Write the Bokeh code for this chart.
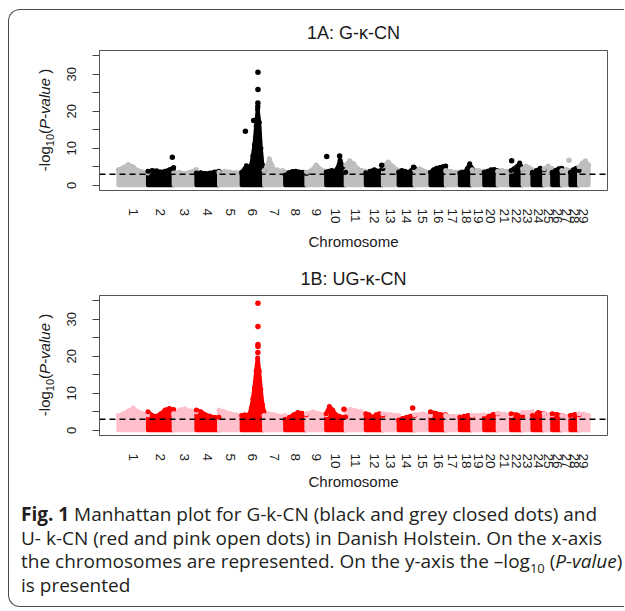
import numpy as np
from bokeh.plotting import figure
from bokeh.models import FixedTicker, Span, Div
from bokeh.layouts import column, row
from bokeh.embed import file_html
from bokeh.resources import INLINE

# ---------------- data ----------------
chromosomes = [str(c) for c in range(1, 30)]
chrom_length_mb = [158.3, 137.1, 121.4, 120.7, 121.2, 119.5, 112.6, 113.4, 105.7, 104.3,
                   107.3, 91.2, 84.2, 84.6, 85.3, 81.7, 75.2, 66.0, 64.1, 72.0,
                   71.6, 61.4, 52.5, 62.7, 42.9, 51.7, 45.4, 46.3, 51.5]
y_ticks = [0, 5, 10, 15, 20, 25, 30, 35]
y_tick_labels = ["0", "", "10", "", "20", "", "30", ""]
threshold = 3.0

# upper envelope of the dense SNP cloud (-log10 P) per chromosome, panel 1A
env_a = [
    [4.2, 4.8, 5.6, 5.0, 4.0, 3.6, 3.3],
    [3.8, 4.0, 3.9, 3.6, 3.8, 4.2, 4.8],
    [3.3, 3.5, 3.2, 3.6, 4.3],
    [3.3, 3.4, 3.2, 3.3, 3.6, 3.8],
    [3.5, 3.8, 3.6, 3.4, 3.5],
    [3.5, 3.8, 4.5, 5.3, 4.5, 5.0, 5.5, 8.0, 11.0, 16.0, 20.5, 17.0, 10.0, 5.5, 4.0],
    [4.0, 5.0, 7.2, 5.5, 4.0, 4.2, 3.8, 4.0, 3.6],
    [2.8, 3.4, 3.7, 3.8, 3.6, 3.5, 3.2],
    [3.5, 4.0, 5.5, 4.2, 3.8],
    [3.6, 3.8, 4.0, 3.8, 4.5, 6.8, 5.0, 3.5],
    [5.5, 6.6, 5.8, 4.5, 4.0, 3.8],
    [3.4, 3.8, 4.2, 3.8, 4.5],
    [5.2, 6.3, 5.0, 4.0],
    [3.6, 4.0, 3.8, 3.5, 4.0, 4.6],
    [4.2, 4.5, 3.8, 3.5],
    [3.5, 4.2, 4.6, 4.8, 5.0, 5.2],
    [4.0, 3.8, 3.5, 3.6],
    [3.3, 3.6, 3.5, 4.5, 5.8, 4.5],
    [4.2, 4.0, 3.8],
    [3.5, 3.8, 4.2, 4.3, 3.9],
    [3.8, 4.0, 3.8, 3.5],
    [4.0, 4.5, 5.0, 6.0, 4.5],
    [4.5, 5.2, 4.8, 4.2],
    [3.5, 4.0, 4.6, 4.2],
    [4.5, 5.2, 4.5],
    [3.5, 4.0, 4.5, 4.6],
    [4.0, 4.3, 4.0],
    [3.5, 4.2, 4.6, 4.0],
    [5.0, 6.0, 6.6, 5.5],
]
# panel 1B
env_b = [
    [4.0, 4.5, 5.2, 6.0, 5.0, 4.5, 4.2],
    [5.0, 4.0, 3.8, 4.5, 5.5, 5.9, 5.6],
    [4.5, 5.5, 5.8, 5.2, 5.0],
    [5.5, 5.0, 4.2, 3.8, 3.5, 3.5],
    [5.5, 5.0, 4.5, 4.2, 4.0],
    [4.0, 4.0, 4.2, 3.8, 4.0, 4.5, 6.0, 8.5, 11.5, 16.0, 19.5, 16.0, 11.0, 7.0, 5.0],
    [4.0, 4.5, 4.2, 3.8, 4.0],
    [3.0, 3.5, 4.2, 4.8, 4.6, 4.2],
    [4.5, 5.0, 4.5, 4.2],
    [4.5, 6.4, 5.5, 4.2, 3.8, 3.5, 3.6],
    [5.5, 5.6, 5.3, 5.0, 4.5],
    [4.5, 4.2, 3.5, 4.2, 4.5, 4.0],
    [4.5, 4.3, 4.0],
    [2.8, 3.2, 3.5, 3.8, 4.0],
    [4.2, 4.5, 4.0],
    [5.0, 4.6, 4.3, 4.2],
    [4.0, 3.8, 3.8],
    [3.5, 3.8, 4.0, 3.6],
    [4.0, 4.2],
    [3.2, 3.8, 4.3, 4.5],
    [4.6, 4.4, 4.0],
    [4.5, 4.2, 3.8],
    [4.8, 5.0],
    [4.0, 4.8, 4.5],
    [4.5, 4.2],
    [4.5, 4.3, 4.0],
    [4.0, 3.8],
    [4.0, 4.3, 4.2],
    [4.5, 4.4, 4.0],
]
# isolated top SNPs
top_a_chrom = [2, 6, 6, 6, 6, 6, 6, 10, 10, 12, 14, 22, 27]
top_a_mb = [130, 20, 64, 86, 86.5, 87, 87, 3, 72, 85, 80, 3, 38]
top_a_val = [7.6, 14.6, 17.5, 21.2, 22.2, 25.9, 30.5, 7.8, 7.9, 5.4, 4.9, 6.6, 6.8]

top_b_chrom = [6, 6, 6, 6, 6, 10, 14]
top_b_mb = [87, 87, 87, 87, 86.5, 95, 75]
top_b_val = [34.3, 28.0, 23.2, 22.6, 21.0, 5.7, 6.0]

# ---------------- layout helpers ----------------
offsets = np.concatenate([[0.0], np.cumsum(chrom_length_mb)[:-1]])
total = float(np.sum(chrom_length_mb))
mids = [float(o + l / 2) for o, l in zip(offsets, chrom_length_mb)]
X0, X1 = -0.04 * total, 1.04 * total
Y0, Y1 = -1.4, 36.4

TOTAL_W = 615
YLAB_W = 50
BL, BR = 40, 17
FRAME_W = TOTAL_W - YLAB_W - BL - BR
FRAME_H = 140

AX_FONT = "Arial"
TXT = "#1a1a1a"


def panel(title, env, cols, tc, tm, tv, top_b, bot_b, title_gap, xlab_gap):
    p = figure(frame_width=FRAME_W, frame_height=FRAME_H,
               x_range=(X0, X1), y_range=(Y0, Y1),
               output_backend="svg", toolbar_location=None,
               min_border_left=BL, min_border_right=BR,
               min_border_top=top_b, min_border_bottom=bot_b)
    p.grid.visible = False
    p.outline_line_color = "#555555"
    p.outline_line_width = 1
    p.background_fill_color = "white"
    p.border_fill_color = "white"

    p.title.text = title
    p.title.align = "center"
    p.title.text_font = AX_FONT
    p.title.text_font_size = "18px"
    p.title.text_font_style = "normal"
    p.title.text_color = TXT
    p.title.standoff = title_gap

    xs, ys, cs, dx, dy, dc = [], [], [], [], [], []
    for i, e in enumerate(env):
        s, L = offsets[i], chrom_length_mb[i]
        px = list(np.linspace(s, s + L, len(e)))
        c = cols[i % 2]
        xs.append([s] + px + [s + L])
        ys.append([0.0] + list(e) + [0.0])
        cs.append(c)
        dx += px
        dy += list(e)
        dc += [c] * len(e)
    p.patches(xs, ys, fill_color=cs, line_color=cs, line_width=4, line_join="round")
    p.scatter(dx, dy, size=5, color=dc, line_color=None)

    tx = [float(offsets[c - 1] + m) for c, m in zip(tc, tm)]
    tcol = [cols[(c - 1) % 2] for c in tc]
    p.scatter(tx, tv, size=5.5, color=tcol, line_color=None)

    p.add_layout(Span(location=threshold, dimension="width", line_color="black",
                      line_width=1.5, line_dash="6 4"))

    # y axis
    ya = p.yaxis[0]
    ya.ticker = FixedTicker(ticks=y_ticks)
    ya.major_label_overrides = {t: l for t, l in zip(y_ticks, y_tick_labels)}
    ya.minor_tick_line_color = None
    ya.major_tick_out = 7
    ya.major_tick_in = 0
    ya.major_tick_line_color = "#444444"
    ya.axis_line_color = "#555555"
    ya.major_label_orientation = "vertical"
    ya.major_label_text_font = AX_FONT
    ya.major_label_text_font_size = "13px"
    ya.major_label_text_color = TXT
    ya.major_label_standoff = 16

    # x axis
    xa = p.xaxis[0]
    xa.ticker = FixedTicker(ticks=mids)
    xa.major_label_overrides = {m: c for m, c in zip(mids, chromosomes)}
    xa.major_label_orientation = "vertical"
    xa.major_label_text_font = AX_FONT
    xa.major_label_text_font_size = "13.5px"
    xa.major_label_text_color = TXT
    xa.major_label_standoff = 18
    xa.major_tick_line_color = None
    xa.minor_tick_line_color = None
    xa.major_tick_out = 0
    xa.major_tick_in = 0
    xa.axis_line_color = None
    xa.axis_label = "Chromosome"
    xa.axis_label_text_font = AX_FONT
    xa.axis_label_text_font_size = "15px"
    xa.axis_label_text_font_style = "normal"
    xa.axis_label_text_color = TXT
    xa.axis_label_standoff = xlab_gap
    return p, top_b + FRAME_H + bot_b


def ylabel_div(h, center_y):
    html = (
        f'<div style="position:relative;width:{YLAB_W}px;height:{h}px;">'
        f'<div style="position:absolute;left:34.5px;top:{center_y}px;'
        'transform:translate(-50%,-50%) rotate(-90deg);white-space:nowrap;'
        f'font-family:\'Liberation Sans\',Arial,sans-serif;font-size:15px;color:{TXT};line-height:15px;">'
        '-log<sub style="font-size:11px;line-height:0;">10</sub>(<i>P-value</i> )</div></div>'
    )
    return Div(text=html, width=YLAB_W, height=h, margin=0)


fa, ha = panel("1A: G-\u03ba-CN", env_a, ["#BEBEBE", "#000000"],
               top_a_chrom, top_a_mb, top_a_val, 40, 69, 15, 6)
fb, hb = panel("1B: UG-\u03ba-CN", env_b, ["#FFC0CB", "#FF0000"],
               top_b_chrom, top_b_mb, top_b_val, 36, 67, 13, 1)

row_a = row(ylabel_div(ha, 40 + FRAME_H / 2), fa)
row_b = row(ylabel_div(hb, 36 + FRAME_H / 2), fb)

caption_html = (
    '<div style="margin-top:1px; padding:0 0 0 12px; font-family:\'Open Sans\'; font-size:19px; '
    'line-height:23.7px; color:#231f20; white-space:nowrap;">'
    '<b>Fig. 1</b> Manhattan plot for G-k-CN (black and grey closed dots) and<br>'
    'U- k-CN (red and pink open dots) in Danish Holstein. On the x-axis<br>'
    'the chromosomes are represented. On the y-axis the \u2013log'
    '<sub style="font-size:13px;line-height:0;">10</sub> (<i>P-value</i>)<br>'
    'is presented</div>'
)
cap = Div(text=caption_html, width=TOTAL_W, height=104, margin=0)

border = "1.5px solid #4a4a4a"
layout = column(row_a, row_b, cap, margin=(9, 0, 0, 8),
                styles={"border-left": border, "border-top": border,
                        "border-bottom": border,
                        "border-top-left-radius": "12px",
                        "border-bottom-left-radius": "12px",
                        "background": "white"})

open("out.html", "w").write(file_html(layout, INLINE))
